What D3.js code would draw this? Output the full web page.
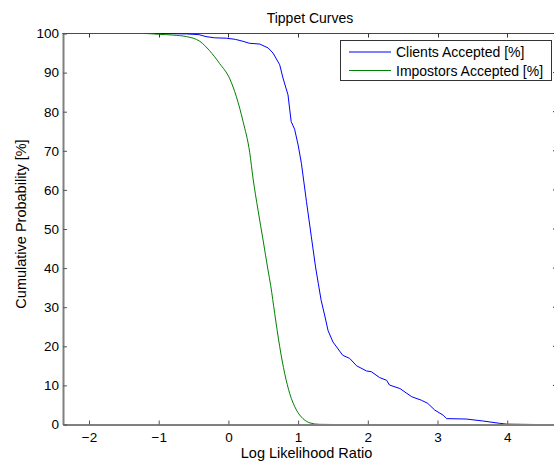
<!DOCTYPE html>
<html><head><meta charset="utf-8">
<script src="https://cdn.jsdelivr.net/npm/d3@7"></script>
<style>body{margin:0;background:#fff}svg{display:block}text{font-family:"Liberation Sans",Arial,sans-serif}</style>
</head><body><svg id="c" width="554" height="462"></svg>
<script>
const title = "Tippet Curves";
const xLabel = "Log Likelihood Ratio";
const yLabel = "Cumulative Probability [%]";
const xTicks = [-2, -1, 0, 1, 2, 3, 4];
const yTicks = [0, 10, 20, 30, 40, 50, 60, 70, 80, 90, 100];
const seriesNames = ["Clients Accepted [%]", "Impostors Accepted [%]"];
const seriesColors = ["#0000ff", "#008000"];
const clientsX = [-2.38,-1.0,-0.6,-0.42,-0.32,-0.2,-0.03,0.1,0.21,0.3,0.45,0.57,0.64,0.736,0.783,0.855,0.90,0.95,1.0,1.047,1.12,1.19,1.25,1.29,1.33,1.38,1.43,1.5,1.64,1.74,1.84,1.98,2.05,2.17,2.27,2.31,2.46,2.63,2.77,2.86,2.96,3.08,3.13,3.41,3.65,3.89,3.99,4.4,4.72];
const clientsY = [100,100,99.9,99.7,99.2,98.9,98.8,98.5,98.0,97.5,97.3,96.3,95.0,92.0,88.6,84.3,77.5,75.5,71.5,66.8,57,48,40.3,36,31.8,28,24,21.1,17.7,16.9,15,13.7,13.5,12.0,11.3,10.1,9.2,7.1,6.2,5.4,3.7,2.4,1.5,1.4,0.9,0.3,0.1,0,0];
const impostorsX = [-2.38,-1.2,-1.0,-0.8,-0.6,-0.41,-0.27,-0.125,0.02,0.115,0.21,0.306,0.353,0.425,0.497,0.568,0.607,0.664,0.736,0.808,0.88,0.976,1.07,1.17,1.3,1.5,4.72];
const impostorsY = [100,100,99.8,99.6,99.2,98.0,95.6,92.3,88.4,83.8,77.5,69.5,63.0,54.8,47.2,39.5,35.5,28.4,19.9,13.0,7.9,3.7,1.5,0.4,0.05,0,0];

const svg = d3.select("#c");
const L = 63, R = 557, T = 33.5, B = 424.5;
const x = d3.scaleLinear().domain([-2.373, 4.714]).range([L, R]);
const y = d3.scaleLinear().domain([0, 100]).range([B, T]);

const g = svg.append("g");
g.append("line").attr("x1", L).attr("x2", R).attr("y1", T).attr("y2", T).attr("stroke", "#444").attr("stroke-width", 1);
g.append("line").attr("x1", R).attr("x2", R).attr("y1", T).attr("y2", B).attr("stroke", "#444").attr("stroke-width", 1);
xTicks.forEach(v => {
  g.append("line").attr("x1", Math.round(x(v)) + 0.5).attr("x2", Math.round(x(v)) + 0.5).attr("y1", T).attr("y2", T + 4).attr("stroke", "#333");
});
yTicks.forEach(v => {
  g.append("line").attr("x1", R).attr("x2", R - 4).attr("y1", y(v)).attr("y2", y(v)).attr("stroke", "#333");
});

const pts = (xs, ys) => xs.map((d, i) => [d, ys[i]]);
const line = d3.line().x(d => x(d[0])).y(d => y(d[1]));
const smooth = d3.line().x(d => x(d[0])).y(d => y(d[1])).curve(d3.curveMonotoneX);
svg.append("path").datum(pts(clientsX, clientsY)).attr("d", line).attr("fill", "none").attr("stroke", seriesColors[0]).attr("stroke-width", 1);
svg.append("path").datum(pts(impostorsX, impostorsY)).attr("d", smooth).attr("fill", "none").attr("stroke", seriesColors[1]).attr("stroke-width", 1);

const xa = svg.append("g").attr("transform", `translate(0,${B})`)
  .call(d3.axisBottom(x).tickValues(xTicks).tickSizeInner(-4).tickSizeOuter(0).tickPadding(8).tickFormat(d => d < 0 ? "\u2212" + Math.abs(d) : d));
xa.select(".domain").attr("stroke", "#808080").attr("stroke-width", 2);
xa.selectAll(".tick line").attr("stroke", "#555");
xa.selectAll("text").attr("font-size", 13.5).attr("fill", "#000").attr("font-family", "Liberation Sans, Arial, sans-serif");

const ya = svg.append("g").attr("transform", `translate(${L},0)`)
  .call(d3.axisLeft(y).tickValues(yTicks).tickSizeInner(-4).tickSizeOuter(0).tickPadding(4));
ya.select(".domain").attr("stroke", "#808080").attr("stroke-width", 2);
ya.selectAll(".tick line").attr("stroke", "#555");
ya.selectAll("text").attr("font-size", 13.5).attr("fill", "#000").attr("font-family", "Liberation Sans, Arial, sans-serif");

svg.append("text").attr("x", 310).attr("y", 23).attr("text-anchor", "middle").attr("font-size", 14).text(title);
svg.append("text").attr("x", 306.5).attr("y", 458).attr("text-anchor", "middle").attr("font-size", 14.5).text(xLabel);
svg.append("text").attr("transform", "translate(26,224) rotate(-90)").attr("text-anchor", "middle").attr("font-size", 14.5).text(yLabel);

const lg = svg.append("g");
lg.append("rect").attr("x", 340.5).attr("y", 40.5).attr("width", 211).attr("height", 40).attr("fill", "#fff").attr("stroke", "#333").attr("stroke-width", 1);
seriesNames.forEach((n, i) => {
  const yy = 52 + i * 18.5;
  lg.append("line").attr("x1", 349).attr("x2", 391).attr("y1", yy).attr("y2", yy).attr("stroke", seriesColors[i]).attr("stroke-width", 1);
  lg.append("text").attr("x", 396).attr("y", yy + 5).attr("font-size", 14).text(n);
});
</script>
</body></html>
